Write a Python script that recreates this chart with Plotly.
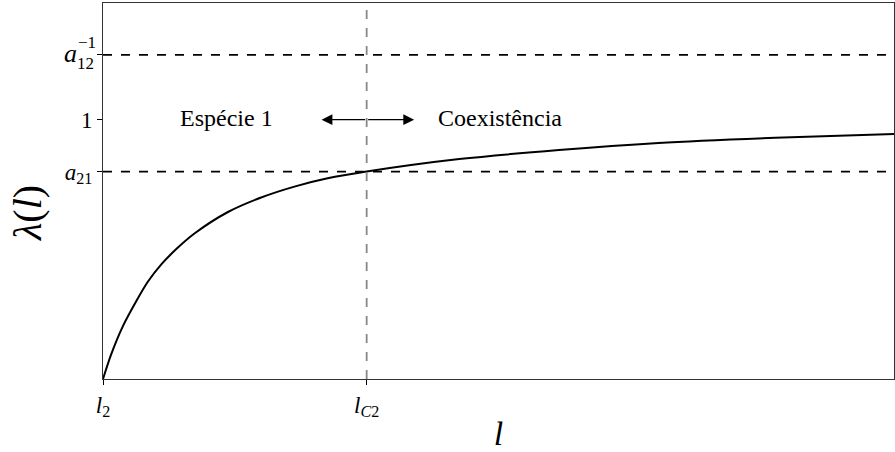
import plotly.graph_objects as go

# Curve lambda(l), l measured from l2 (l2 = 0, lC2 = 1)
l_vals = [0.0, 0.031, 0.076, 0.126, 0.17, 0.222, 0.28, 0.348, 0.474, 0.600,
          0.726, 0.852, 1.0, 1.351, 1.729, 2.107, 2.55, 3.0]
lam_vals = [0.0, 0.095, 0.205, 0.300, 0.375, 0.443, 0.503, 0.562, 0.644, 0.700,
            0.742, 0.774, 0.80, 0.848, 0.883, 0.910, 0.930, 0.945]

# Reference levels and critical point
a21 = 0.80
a12_inv = 1.25
l_c2 = 1.0
l_2 = 0.0

x_tick_vals = [l_2, l_c2]
x_tick_text = ["<i>l</i><sub>2</sub>", "<i>l</i><sub><i>C</i>2</sub>"]
y_tick_vals = [a21, 1.0, a12_inv]
y_tick_text = ["<i>a</i><sub>21</sub>", "1", ""]

x_range = [0, 3.0]
y_range = [0, 1.45]

FONT = "Liberation Serif"

fig = go.Figure()

fig.add_trace(go.Scatter(
    x=l_vals, y=lam_vals, mode="lines",
    line=dict(color="black", width=2, shape="spline", smoothing=0.8),
    showlegend=False, hoverinfo="skip",
))

# horizontal dashed levels
for lvl in (a21, a12_inv):
    fig.add_shape(type="line", xref="x", yref="y", x0=x_range[0], x1=x_range[1],
                  y0=lvl, y1=lvl, line=dict(color="black", width=1.8, dash="dash"))

# vertical dashed line at lC2
fig.add_shape(type="line", xref="x", yref="y", x0=l_c2, x1=l_c2,
              y0=y_range[0], y1=y_range[1],
              line=dict(color="#888888", width=1.8, dash="dash"))

# region labels
fig.add_annotation(x=0.47, y=1.0, xref="x", yref="y", text="Espécie 1",
                   showarrow=False, yshift=2,
                   font=dict(family=FONT, size=24, color="black"))
fig.add_annotation(x=1.505, y=1.0, xref="x", yref="y", text="Coexistência",
                   showarrow=False, yshift=2,
                   font=dict(family=FONT, size=24, color="black"))

# double arrow between the regions
for end in (0.829, 1.180):
    fig.add_annotation(x=end, y=1.0, ax=l_c2, ay=1.0, xref="x", yref="y",
                       axref="x", ayref="y", text="", showarrow=True,
                       arrowhead=2, arrowsize=1.8, arrowwidth=1.2,
                       arrowcolor="black")

# stacked a_12^{-1} tick label
fig.add_annotation(x=0, y=a12_inv, xref="paper", yref="y", text="<i>a</i>",
                   showarrow=False, xanchor="right", xshift=-24, yshift=1,
                   font=dict(family=FONT, size=26, color="black"))
fig.add_annotation(x=0, y=a12_inv, xref="paper", yref="y", text="−1",
                   showarrow=False, xanchor="right", xshift=-5, yshift=12,
                   font=dict(family=FONT, size=17, color="black"))
fig.add_annotation(x=0, y=a12_inv, xref="paper", yref="y", text="12",
                   showarrow=False, xanchor="right", xshift=-7, yshift=-9,
                   font=dict(family=FONT, size=17, color="black"))

# y-axis title, rotated
fig.add_annotation(x=0, y=0.5, xref="paper", yref="paper", text="<i>λ</i>(<i>l</i>)",
                   showarrow=False, textangle=-90, xanchor="center",
                   xshift=-76, yshift=-22,
                   font=dict(family=FONT, size=40, color="black"))

fig.update_layout(
    width=895, height=452,
    margin=dict(l=103, r=0, t=3, b=65),
    paper_bgcolor="white", plot_bgcolor="white",
    font=dict(family=FONT, color="black"),
    xaxis=dict(
        range=x_range, showgrid=False, zeroline=False,
        showline=True, linecolor="#333333", linewidth=1, mirror=True,
        ticks="outside", ticklen=5, tickcolor="black",
        tickvals=x_tick_vals, ticktext=x_tick_text,
        tickfont=dict(family=FONT, size=23),
        title=dict(text="<i>l</i>", font=dict(family=FONT, size=34), standoff=8),
    ),
    yaxis=dict(
        range=y_range, showgrid=False, zeroline=False,
        showline=True, linecolor="#333333", linewidth=1, mirror=True,
        ticks="outside", ticklen=5, tickcolor="black",
        tickvals=y_tick_vals, ticktext=y_tick_text,
        tickfont=dict(family=FONT, size=23),
    ),
)

fig.write_html("out.html")
